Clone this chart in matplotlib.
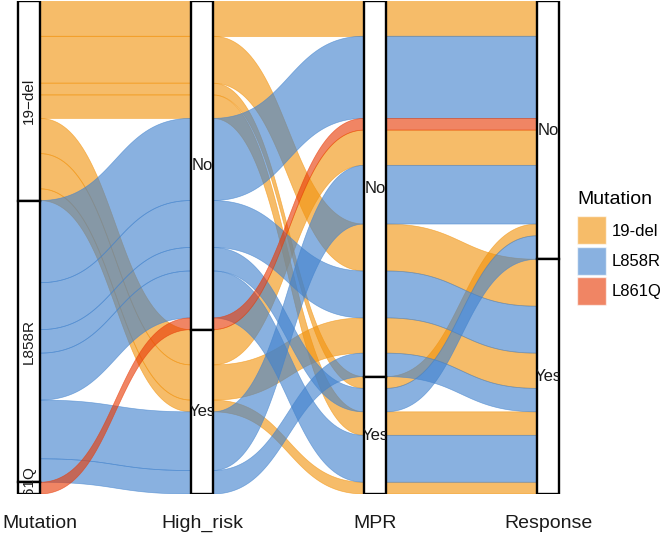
import matplotlib
matplotlib.use('Agg')
import matplotlib.pyplot as plt
import matplotlib.transforms as mtransforms
from matplotlib.patches import Rectangle, Polygon, Patch
import numpy as np

plt.rcParams['font.family'] = ['Liberation Sans', 'DejaVu Sans']

# axes of the alluvial plot and their strata (top to bottom)
axis_names = ['Mutation', 'High_risk', 'MPR', 'Response']
mutation_levels = ['19-del', 'L858R', 'L861Q']
yes_no = ['No', 'Yes']
levels = [mutation_levels, yes_no, yes_no, yes_no]

# one row per distinct path, with number of patients
mutation  = ['19-del', '19-del', '19-del', '19-del', '19-del', '19-del', '19-del',
             'L858R', 'L858R', 'L858R', 'L858R', 'L858R', 'L858R', 'L861Q']
high_risk = ['No', 'No', 'No', 'No', 'Yes', 'Yes', 'Yes',
             'No', 'No', 'No', 'No', 'Yes', 'Yes', 'No']
mpr       = ['No', 'No', 'Yes', 'Yes', 'No', 'No', 'Yes',
             'No', 'No', 'Yes', 'Yes', 'No', 'No', 'No']
response  = ['No', 'Yes', 'No', 'Yes', 'No', 'Yes', 'Yes',
             'No', 'Yes', 'No', 'Yes', 'No', 'Yes', 'No']
counts    = [3, 4, 1, 2, 3, 3, 1, 7, 4, 2, 4, 5, 2, 1]

colors = {'19-del': '#F2930D', 'L858R': '#4182CD', 'L861Q': '#E83A05'}
alpha = 0.62

paths = list(zip(mutation, high_risk, mpr, response))
n_ax = len(axis_names)
codes = [[levels[j].index(p[j]) for j in range(n_ax)] for p in paths]


def zigzag(n, i):
    order = [i]
    l, r = i - 1, i + 1
    left_first = i <= n - 1 - i
    while l >= 0 or r < n:
        if left_first:
            if l >= 0:
                order.append(l); l -= 1
            if r < n:
                order.append(r); r += 1
        else:
            if r < n:
                order.append(r); r += 1
            if l >= 0:
                order.append(l); l -= 1
    return order


# lode positions (top of each alluvium at each axis)
tops = np.zeros((len(paths), n_ax))
for i in range(n_ax):
    zz = zigzag(n_ax, i)
    idx = sorted(range(len(paths)), key=lambda a: tuple(codes[a][j] for j in zz))
    pos = 0
    for a in idx:
        tops[a, i] = pos
        pos += counts[a]
total = sum(counts)

fig = plt.figure(figsize=(6.66, 5.37), dpi=100)
W, H = 666, 537
ax_left_px, ax_right_px, ax_top_px, ax_bot_px = 0, 570, 1, 494
ax = fig.add_axes([ax_left_px / W, 1 - ax_bot_px / H,
                   (ax_right_px - ax_left_px) / W, (ax_bot_px - ax_top_px) / H])
spacing = 173.0
x0_px = 29.0
ax.set_xlim(1 - (x0_px - ax_left_px) / spacing, 1 + (ax_right_px - x0_px) / spacing)
ax.set_ylim(total, 0)
ax.axis('off')

xs = np.arange(1, n_ax + 1)
w = 0.125


def curve(xa, ya, xb, yb, k=0.5, n=60):
    t = np.linspace(0, 1, n)
    dx = xb - xa
    px = [xa, xa + k * dx, xb - k * dx, xb]
    py = [ya, ya, yb, yb]
    bx = ((1 - t) ** 3 * px[0] + 3 * (1 - t) ** 2 * t * px[1]
          + 3 * (1 - t) * t ** 2 * px[2] + t ** 3 * px[3])
    by = ((1 - t) ** 3 * py[0] + 3 * (1 - t) ** 2 * t * py[1]
          + 3 * (1 - t) * t ** 2 * py[2] + t ** 3 * py[3])
    return np.column_stack([bx, by])


for a in range(len(paths)):
    top_pts = []
    bot_pts = []
    for i in range(n_ax):
        top_pts.append([xs[i] - w / 2, tops[a, i]])
        top_pts.append([xs[i] + w / 2, tops[a, i]])
        bot_pts.append([xs[i] - w / 2, tops[a, i] + counts[a]])
        bot_pts.append([xs[i] + w / 2, tops[a, i] + counts[a]])
        if i < n_ax - 1:
            top_pts.extend(curve(xs[i] + w / 2, tops[a, i],
                                 xs[i + 1] - w / 2, tops[a, i + 1]).tolist())
            bot_pts.extend(curve(xs[i] + w / 2, tops[a, i] + counts[a],
                                 xs[i + 1] - w / 2, tops[a, i + 1] + counts[a]).tolist())
    poly = np.array(top_pts + bot_pts[::-1])
    c = colors[paths[a][0]]
    ax.add_patch(Polygon(poly, closed=True, facecolor=c, edgecolor=c,
                         alpha=alpha, lw=0.5, zorder=1))

# strata boxes and labels
for i in range(n_ax):
    pos = 0
    for lev in levels[i]:
        n = sum(cn for cn, p in zip(counts, paths) if p[i] == lev)
        if n == 0:
            continue
        rect = Rectangle((xs[i] - w / 2, pos), w, n, facecolor='white',
                         edgecolor='black', lw=1.7, zorder=3)
        ax.add_patch(rect)
        if i == 0:
            t = ax.text(xs[i], pos + n / 2, lev.replace('-', '\u2212'), rotation=90,
                        ha='center', va='center', fontsize=11, color='#1a1a1a',
                        zorder=4, clip_on=True)
        else:
            t = ax.text(xs[i], pos + n / 2, lev, ha='center', va='center',
                        fontsize=12, color='#1a1a1a', zorder=4, clip_on=True)
            t.set_clip_box(mtransforms.TransformedBbox(
                mtransforms.Bbox([[xs[i] - w / 2, pos], [xs[i] + w / 2, pos + n]]),
                ax.transData))
        pos += n

# axis names
blend = mtransforms.blended_transform_factory(ax.transData, ax.transAxes)
for i, name in enumerate(axis_names):
    if i == 0:
        ax.text(ax.get_xlim()[0] + 2 / spacing, -0.042, name, transform=blend,
                ha='left', va='top', fontsize=14, color='#1a1a1a', clip_on=False)
    else:
        ax.text(xs[i], -0.042, name, transform=blend, ha='center', va='top',
                fontsize=14, color='#1a1a1a', clip_on=False)

handles = [Patch(facecolor=colors[m], alpha=alpha, edgecolor='white', lw=1)
           for m in mutation_levels]
leg = fig.legend(handles, mutation_levels, title='Mutation', loc='upper left',
                 bbox_to_anchor=(577 / W, 1 - 191 / H), frameon=False,
                 fontsize=12, title_fontsize=14, handlelength=1.74,
                 handleheight=2.21, handletextpad=0.36, labelspacing=0.14,
                 borderpad=0, borderaxespad=0, alignment='left')
leg._legend_box.sep = 6

fig.savefig('out.png', dpi=100)
